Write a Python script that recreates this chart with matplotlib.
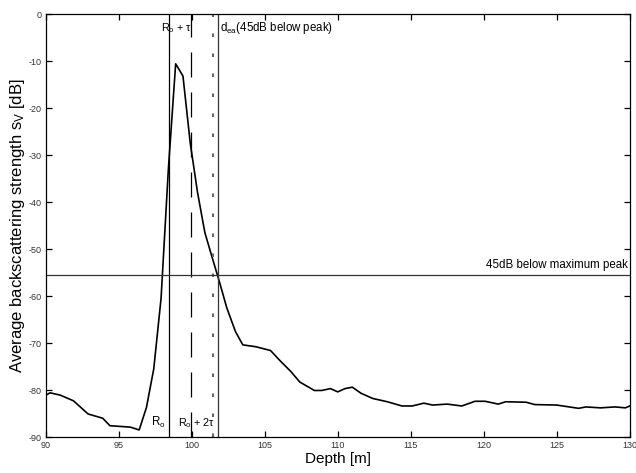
import matplotlib
matplotlib.use('Agg')
import matplotlib.pyplot as plt

# backscattering profile
depth = [90.0, 90.3, 91.0, 91.9, 92.9, 93.9, 94.4, 95.8, 96.4, 96.9, 97.4, 97.9,
         98.4, 98.9, 99.4, 99.9, 100.4, 100.9, 101.4, 101.9, 102.4, 103.0, 103.5,
         104.4, 105.4, 106.0, 106.8, 107.4, 108.4, 108.9, 109.5, 110.0, 110.5,
         111.0, 111.6, 112.4, 113.4, 114.4, 115.1, 115.9, 116.5, 117.5, 118.5,
         119.4, 120.1, 121.0, 121.5, 122.9, 123.5, 125.0, 126.5, 127.0, 128.0,
         129.0, 129.7, 130.0]
sv = [-81.1, -80.6, -81.1, -82.3, -85.1, -86.0, -87.6, -87.9, -88.5, -83.7, -75.5, -60.5,
      -33.0, -10.6, -13.2, -27.5, -38.0, -46.5, -51.8, -57.0, -62.5, -67.6, -70.4,
      -70.8, -71.6, -73.6, -76.1, -78.3, -80.1, -80.1, -79.7, -80.4, -79.7,
      -79.4, -80.7, -81.8, -82.5, -83.4, -83.4, -82.8, -83.2, -83.0, -83.4,
      -82.4, -82.4, -83.0, -82.5, -82.6, -83.1, -83.2, -83.9, -83.6, -83.8,
      -83.6, -83.8, -83.4]

r0 = 98.45
tau = 1.5
d_ea = 101.8
peak = max(sv)
threshold = peak - 45

xticks = [90, 95, 100, 105, 110, 115, 120, 125, 130]
yticks = [0, -10, -20, -30, -40, -50, -60, -70, -80, -90]

plt.rcParams['font.family'] = ['Liberation Sans', 'DejaVu Sans']
plt.rcParams['mathtext.default'] = 'regular'
plt.rcParams['axes.unicode_minus'] = False

fig = plt.figure(figsize=(6.36, 4.73), dpi=100)
ax = fig.add_axes([0.0719, 0.0761, 0.9182, 0.8943])

ax.plot(depth, sv, color='black', lw=1.2)

# reference lines
ax.axvline(r0, color='black', lw=0.9)
ax.axvline(r0 + tau, color='black', lw=0.9, dashes=(20, 12))
ax.axvline(r0 + 2 * tau, color='#666666', lw=1.5, dashes=(1.7, 7.9))
ax.axvline(d_ea, color='#333333', lw=0.9)
ax.axhline(threshold, color='#333333', lw=0.9)

# labels on the lines
fs = 8.3
ax.text(97.88, -3.0, r'R$_o$ + τ', fontsize=7.8, va='center', ha='left')
ax.text(101.94, -3.0, r'd$_{ea}$(45dB below peak)', fontsize=fs, va='center', ha='left')
ax.text(97.2, -87.0, r'R$_o$', fontsize=fs, va='center', ha='left')
ax.text(99.06, -87.0, r'R$_o$ + 2τ', fontsize=7.8, va='center', ha='left')
ax.text(129.9, -53.4, '45dB below maximum peak', fontsize=fs, va='center', ha='right')

ax.set_xlim(90, 130)
ax.set_ylim(-90, 0)
ax.set_xticks(xticks)
ax.set_yticks(yticks)
ax.tick_params(direction='in', length=4, width=0.9, labelsize=6.5, top=True, right=True,
               pad=3, colors='black', labelcolor='#333333')
for s in ax.spines.values():
    s.set_linewidth(0.9)

ax.set_xlabel('Depth [m]', fontsize=11, labelpad=1)
ax.set_ylabel(r'Average backscattering strength s$_V$ [dB]', fontsize=12, labelpad=1)

fig.savefig('out.png', dpi=100)
